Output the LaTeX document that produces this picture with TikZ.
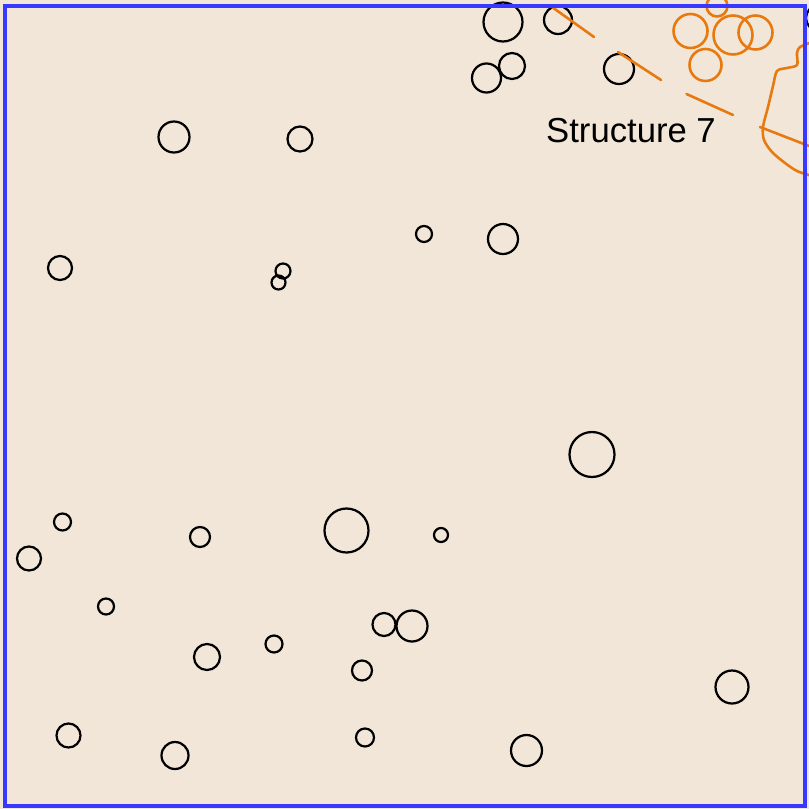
\documentclass[tikz,border=0pt]{standalone}
\usepackage{fontspec}
\setmainfont{Liberation Sans}
\usepackage{tikz}
\definecolor{sand}{RGB}{241,230,216}
\definecolor{emberorange}{RGB}{232,121,14}
\definecolor{frameblue}{RGB}{56,56,255}

\begin{document}
\begin{tikzpicture}[x=0.03cm, y=-0.03cm,
    bubble/.style={draw=black, line width=1.9pt},
    ember/.style={draw=emberorange, line width=2.2pt, line cap=round},
    frame/.style={draw=frameblue, line width=2.6pt}]
    \useasboundingbox (0,0) rectangle (809,809);
    \clip (0,0) rectangle (809,809);
    \fill[sand] (0,0) rectangle (809,809);
    % black circles
    \foreach \cx/\cy/\r in {503/22/19.5, 558/20/14, 512/66/13, 486.5/78/14.5, 619/69/15,
        819/18/13, 174/137/15.5, 300/139/12.5, 424/234/8, 503/239/15, 60/268/12,
        283/271/7.5, 278.5/282.5/7, 592/454.5/22.5, 62.5/522/8.5, 200/537/10,
        346.5/530.5/22, 441/535/7, 29/558.5/12, 106/606.5/8, 384/624.5/11.5,
        412/626/15.5, 274/644/8.5, 207/657/13, 362/670.5/10, 732/687/16.5,
        68.5/735.5/12, 365/737.5/9, 175/755.5/13.5, 526.5/750.5/15.5} {
        \draw[bubble] (\cx,\cy) circle[radius=\r];
    }
    % orange structure
    \foreach \cx/\cy/\r in {717/6/10.5, 690.5/31/17, 733/35/19.5, 755.5/32.5/17, 705.5/65/16} {
        \draw[ember] (\cx,\cy) circle[radius=\r];
    }
    \draw[ember] (552,7) -- (594,37);
    \draw[ember] (618,52) -- (661,80);
    \draw[ember] (686.5,94) -- (733,115);
    \draw[ember] (760,127) -- (809,146);
    \draw[ember] plot[smooth, tension=0.5] coordinates {(812,42) (800,47) (797,53) (797,65)
        (787,68) (777,71) (773,86) (768,107) (763,127) (764,140) (772,152) (785,163)
        (797,171) (812,176)};
    \node[font=\fontsize{29.6}{34}\selectfont, anchor=base, inner sep=0pt] (lbl) at (631,142) {Structure 7};
    % frame
    \draw[frame] (5,6) rectangle (805,806);
\end{tikzpicture}
\end{document}
